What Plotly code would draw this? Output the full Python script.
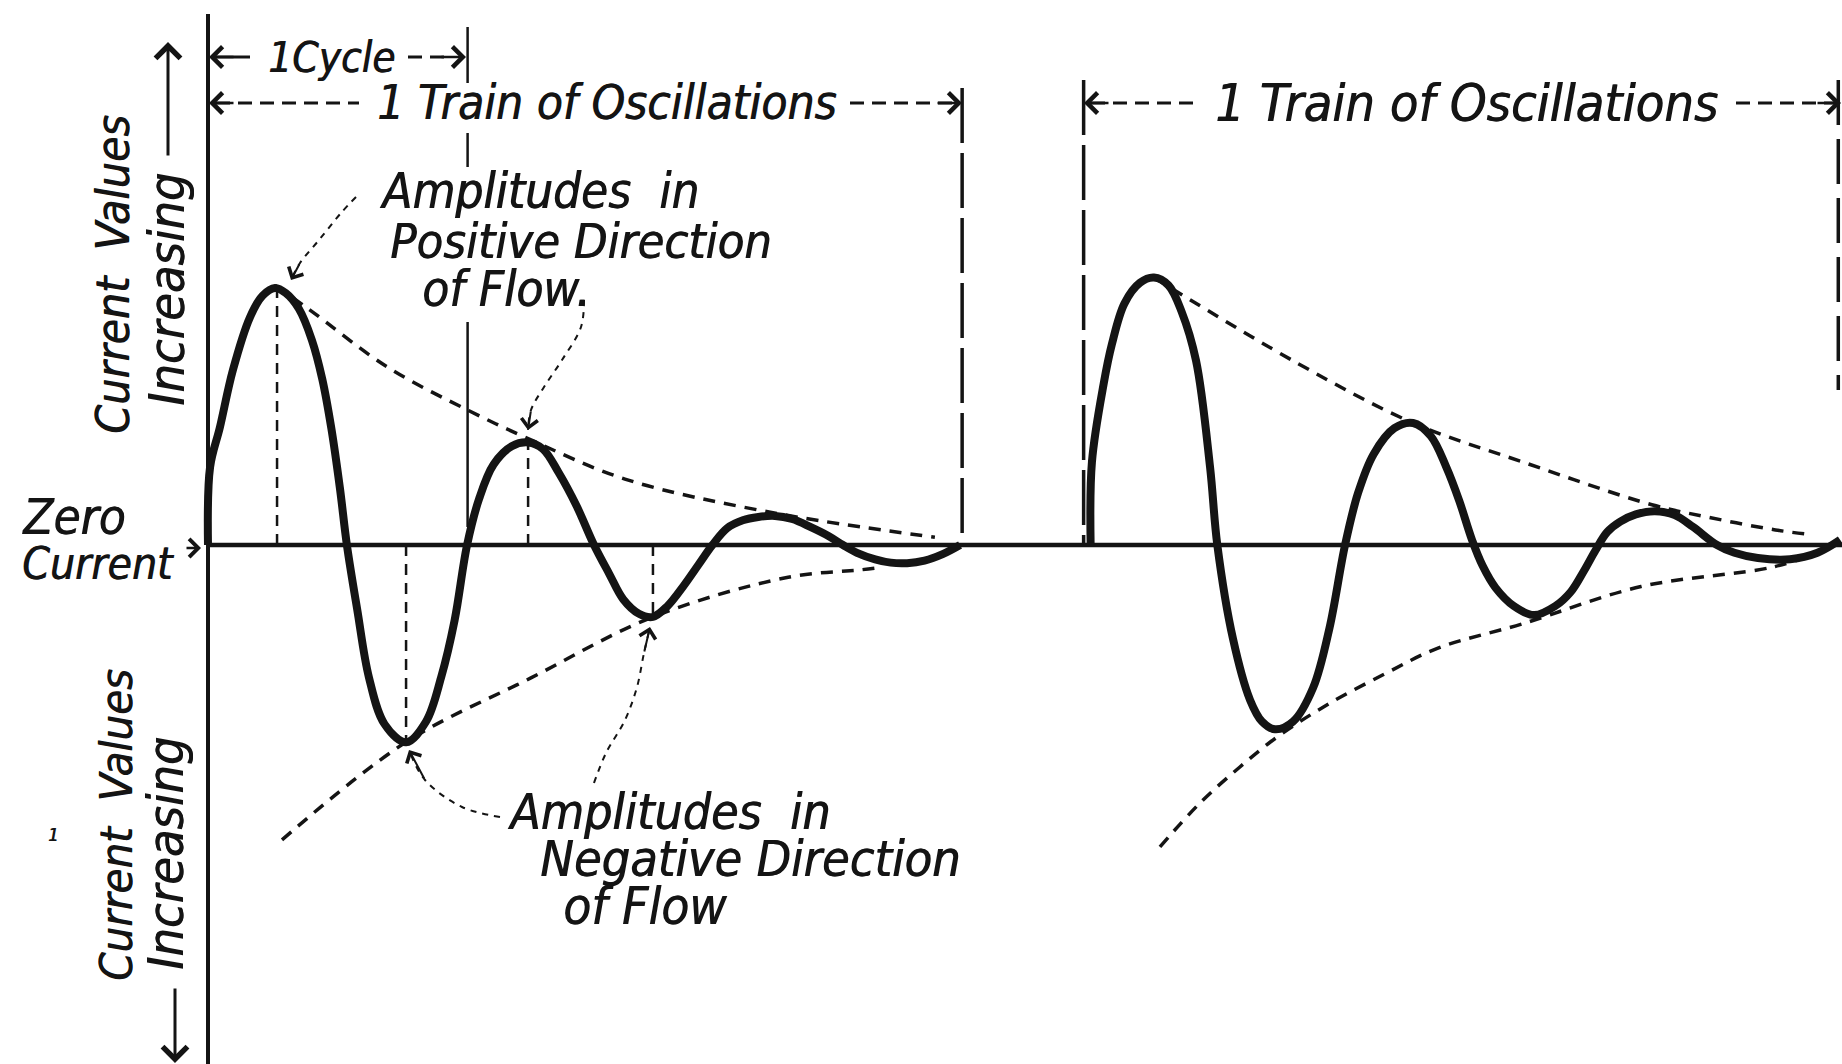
import plotly.graph_objects as go

# time in cycles, current relative to the first positive amplitude (= 1)
train1_t = [0.0, 0.008, 0.046, 0.096, 0.162, 0.21, 0.258, 0.30, 0.35, 0.40, 0.44, 0.475, 0.508, 0.535,
            0.575, 0.62, 0.68, 0.763, 0.84, 0.898, 0.95, 0.998,
            1.045, 1.10, 1.17, 1.233, 1.29, 1.35, 1.42, 1.487,
            1.545, 1.60, 1.66, 1.714, 1.77, 1.83, 1.89, 1.943,
            2.0, 2.06, 2.12, 2.184, 2.25, 2.32, 2.39, 2.446,
            2.50, 2.57, 2.63, 2.693, 2.76, 2.83, 2.897]
train1_i = [0.0, 0.30, 0.454, 0.674, 0.878, 0.96, 0.99, 0.97, 0.91, 0.79, 0.64, 0.45, 0.22, 0.0,
            -0.25, -0.51, -0.69, -0.76, -0.68, -0.51, -0.29, 0.0,
            0.18, 0.31, 0.38, 0.395, 0.37, 0.28, 0.15, 0.0,
            -0.11, -0.21, -0.265, -0.277, -0.235, -0.16, -0.075, 0.0,
            0.065, 0.095, 0.108, 0.112, 0.10, 0.07, 0.035, 0.0,
            -0.03, -0.055, -0.068, -0.07, -0.06, -0.035, 0.0]

train2_t = [3.400, 3.405, 3.45, 3.482, 3.53, 3.59, 3.644, 3.70, 3.75, 3.806, 3.86, 3.888,
            3.948, 4.014, 4.06, 4.110, 4.18, 4.257, 4.32, 4.380,
            4.43, 4.49, 4.57, 4.642, 4.71, 4.77, 4.82, 4.869,
            4.91, 4.96, 5.03, 5.108, 5.19, 5.25, 5.30, 5.345,
            5.39, 5.44, 5.50, 5.574, 5.65, 5.72, 5.813,
            5.88, 5.97, 6.094, 6.20, 6.287]
train2_i = [0.0, 0.32, 0.62, 0.774, 0.93, 1.01, 1.03, 1.0, 0.90, 0.71, 0.30, 0.0,
            -0.36, -0.597, -0.68, -0.71, -0.68, -0.55, -0.32, 0.0,
            0.20, 0.35, 0.45, 0.47, 0.42, 0.30, 0.17, 0.02,
            -0.08, -0.165, -0.235, -0.27, -0.235, -0.18, -0.10, -0.02,
            0.05, 0.09, 0.118, 0.13, 0.115, 0.07, 0.0,
            -0.03, -0.05, -0.055, -0.03, 0.02]

env1_up_t = [0.258, 0.393, 0.69, 1.0, 1.233, 1.606, 2.161, 2.80]
env1_up_i = [1.0, 0.905, 0.686, 0.52, 0.41, 0.254, 0.127, 0.03]
env1_low_t = [0.285, 0.763, 1.244, 1.714, 2.23, 2.52, 2.60]
env1_low_i = [-1.136, -0.759, -0.512, -0.277, -0.125, -0.095, -0.085]

env2_up_t = [3.644, 4.197, 4.642, 5.064, 5.562, 5.774, 6.038, 6.183]
env2_up_i = [1.03, 0.70, 0.47, 0.32, 0.155, 0.108, 0.058, 0.039]
env2_low_t = [3.667, 3.821, 3.975, 4.118, 4.322, 4.54, 4.738, 5.062, 5.52, 6.028, 6.198]
env2_low_i = [-1.163, -0.994, -0.855, -0.74, -0.609, -0.493, -0.397, -0.304, -0.16, -0.085, -0.031]

# amplitudes marked with dropped lines (first train)
amp_t = [0.266, 0.763, 1.233, 1.714]
amp_i = [0.99, -0.759, 0.398, -0.277]

cycle_t = 1.0
train1_end_t = 2.905
train2_start_t = 3.373
train2_end_t = 6.28

INK = "#141414"
W, H = 1842, 1064
X0, Y0, UNIT = 208, 545, 259.6
FONT = "DejaVu Sans Condensed, DejaVu Sans, sans-serif"


def t_of(px):
    return (px - X0) / UNIT


def i_of(py):
    return (Y0 - py) / UNIT


fig = go.Figure()


def line(xs, ys, width, dash="solid", shape="linear"):
    fig.add_trace(go.Scatter(x=xs, y=ys, mode="lines", hoverinfo="skip",
                             line=dict(color=INK, width=width, dash=dash, shape=shape, smoothing=1)))


# envelopes
for tt, ii in [(env1_up_t, env1_up_i), (env1_low_t, env1_low_i),
               (env2_up_t, env2_up_i), (env2_low_t, env2_low_i)]:
    line(tt, ii, 3.5, "12px,9px", "spline")

# dropped lines at the amplitudes
for tt, ii in zip(amp_t, amp_i):
    line([tt, tt], [0, ii], 2.5, "11px,8px")

# train boundaries
line([train1_end_t, train1_end_t], [i_of(88), 0], 3.5, "55px,10px")
line([train2_start_t, train2_start_t], [i_of(80), 0], 3.5, "55px,10px")
line([train2_end_t, train2_end_t], [i_of(80), i_of(390)], 3.5, "45px,14px")

# one cycle marker (broken thin line)
for a, b in [(27, 83), (133, 167), (322, 527)]:
    line([cycle_t, cycle_t], [i_of(a), i_of(b)], 2.5)

# axes drawn as lines
line([0, 0], [i_of(14), i_of(1064)], 4)
line([0, t_of(1842)], [0, 0], 4.5)

# oscillation trains
line(train1_t, train1_i, 8, shape="spline")
line(train2_t, train2_i, 8, shape="spline")

# dotted pointer curves
pointers = [
    [(356, 197), (341, 213), (319, 240), (300, 263), (291, 280)],
    [(584, 300), (581, 327), (562, 360), (544, 387), (531, 410), (528, 430)],
    [(500, 817), (462, 807), (425, 780), (409, 750)],
    [(594, 783), (606, 753), (625, 720), (637, 687), (644, 653), (650, 627)],
]
for pts in pointers:
    line([t_of(p[0]) for p in pts], [i_of(p[1]) for p in pts], 2, "6px,6px", "spline")

# dimension dashes
for x_a, x_b, y in [(408, 450, 57), (216, 359, 103), (850, 955, 103), (1091, 1196, 103), (1736, 1836, 103)]:
    line([t_of(x_a), t_of(x_b)], [i_of(y), i_of(y)], 3, "14px,8px")
line([t_of(212), t_of(250)], [i_of(57), i_of(57)], 3)

annotations = []


def arrow(tip, tail, width=2.5, size=1.6):
    annotations.append(dict(x=tip[0] / W, y=1 - tip[1] / H, xref="paper", yref="paper",
                            ax=tail[0] - tip[0], ay=tail[1] - tip[1], text="", showarrow=True,
                            arrowhead=4, arrowsize=size, arrowwidth=width, arrowcolor=INK, standoff=0))


def label(txt, x, y, size, anchor="left", angle=0):
    annotations.append(dict(x=x / W, y=1 - y / H, xref="paper", yref="paper", text=txt,
                            showarrow=False, xanchor=anchor, yanchor="middle", textangle=angle,
                            font=dict(family=FONT, size=size, color=INK, style="italic",
                                      shadow="0.8px 0px 0px #141414")))


# arrowheads
arrow((209, 57), (235, 57))
arrow((466, 57), (440, 57))
arrow((209, 103), (235, 103))
arrow((962, 103), (936, 103))
arrow((1084, 103), (1110, 103))
arrow((1842, 103), (1816, 103))
arrow((168, 42), (168, 157), 3)
arrow((175, 1063), (175, 987), 3)
arrow((201, 548), (185, 548), 2.5, 1.4)
arrow((291, 280), (300, 263), 2, 1.6)
arrow((528, 430), (531, 410), 2, 1.6)
arrow((409, 750), (425, 780), 2, 1.6)
arrow((650, 627), (644, 653), 2, 1.6)

# labels
label("1Cycle", 266, 57, 42)
label("1 Train of Oscillations", 606, 103, 47.5, "center")
label("1 Train of Oscillations", 1466, 103, 52, "center")
label("Amplitudes  in", 377, 191, 49)
label("Positive Direction", 388, 241, 48.5)
label("of Flow.", 420, 289, 49)
label("Amplitudes  in", 505, 812, 49.5)
label("Negative Direction", 538, 859, 50)
label("of Flow", 561, 906, 51)
label("Zero", 20, 517, 49)
label("Current", 20, 563, 44)
label("Current  Values", 113, 275, 46, "center", -90)
label("Increasing", 167, 290, 50, "center", -90)
label("Current  Values", 116, 825, 45, "center", -90)
label("Increasing", 166, 854, 50, "center", -90)
label("1", 53, 834, 18, "center")

fig.update_layout(
    width=W, height=H, margin=dict(l=0, r=0, t=0, b=0),
    paper_bgcolor="white", plot_bgcolor="white", showlegend=False,
    annotations=annotations,
    xaxis=dict(range=[t_of(0), t_of(W)], visible=False, fixedrange=True),
    yaxis=dict(range=[i_of(H), i_of(0)], visible=False, fixedrange=True),
)
fig.write_html("out.html", config={"displayModeBar": False},
               post_script="document.body.style.margin='0px';")
